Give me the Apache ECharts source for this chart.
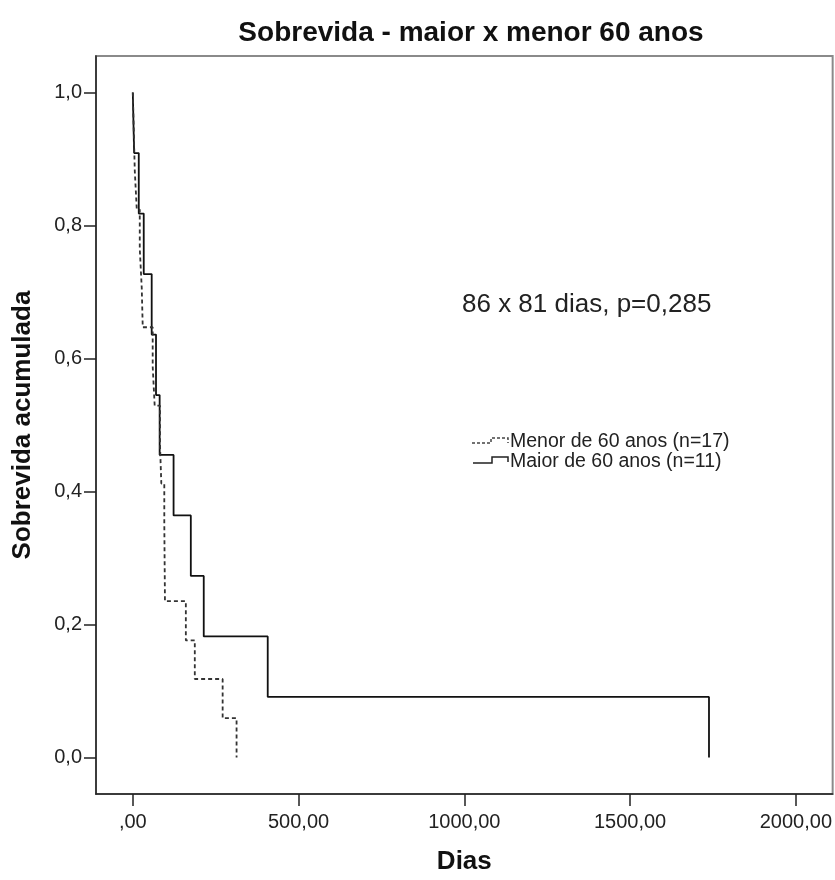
<!DOCTYPE html>
<html>
<head>
<meta charset="utf-8">
<script src="https://cdn.jsdelivr.net/npm/echarts@6/dist/echarts.min.js"></script>
<style>
  html, body { margin: 0; padding: 0; background: #fff; }
  #chart { width: 835px; height: 880px; }
</style>
</head>
<body>
<div id="chart"></div>
<script>
// Kaplan-Meier step points (days, cumulative survival)
const menorDays = [0, 3, 6, 12, 21, 27, 30, 60, 66, 82, 86, 95, 96, 97, 160, 187, 271, 313];
const menorSurv = [1, 0.941, 0.882, 0.824, 0.765, 0.706, 0.647, 0.588, 0.529, 0.471, 0.412, 0.353, 0.294, 0.235, 0.176, 0.118, 0.059, 0];
const maiorDays = [0, 4, 18, 33, 57, 70, 81, 123, 175, 214, 407, 1738];
const maiorSurv = [1, 0.909, 0.818, 0.727, 0.636, 0.545, 0.455, 0.364, 0.273, 0.182, 0.091, 0];

const xTicks = [0, 500, 1000, 1500, 2000];
const yTicks = [0, 0.2, 0.4, 0.6, 0.8, 1.0];

const seriesNames = ['Menor de 60 anos (n=17)', 'Maior de 60 anos (n=11)'];
const annotation = '86 x 81 dias, p=0,285';

const FONT = '"Liberation Sans", Arial, sans-serif';

const pairs = (xs, ys) => xs.map((x, i) => [x, ys[i]]);

const chart = echarts.init(document.getElementById('chart'));

chart.setOption({
    animation: false,
    backgroundColor: '#fff',
    title: {
        text: 'Sobrevida - maior x menor 60 anos',
        left: 466,
        textAlign: 'center',
        top: 14,
        textStyle: { fontFamily: FONT, fontSize: 28, fontWeight: 'bold', color: '#111' }
    },
    grid: {
        left: 96, right: 1, top: 56, bottom: 80,
        show: true,
        borderColor: '#8a8a8a',
        borderWidth: 2
    },
    xAxis: {
        type: 'value',
        min: -111,
        max: 2111,
        name: 'Dias',
        nameLocation: 'middle',
        nameGap: 55,
        nameTextStyle: { fontFamily: FONT, fontSize: 26, fontWeight: 'bold', color: '#111' },
        axisLine: { show: true, onZero: false, lineStyle: { color: '#222', width: 1.5 } },
        axisTick: { show: true, length: 12, customValues: xTicks, lineStyle: { color: '#222', width: 1.5 } },
        axisLabel: {
            customValues: xTicks,
            margin: 18,
            fontFamily: FONT, fontSize: 20, color: '#222',
            formatter: v => v === 0 ? ',00' : v.toFixed(2).replace('.', ',')
        },
        splitLine: { show: false }
    },
    yAxis: {
        type: 'value',
        min: -0.055,
        max: 1.055,
        name: 'Sobrevida acumulada',
        nameLocation: 'middle',
        nameGap: 60,
        nameTextStyle: { fontFamily: FONT, fontSize: 26, fontWeight: 'bold', color: '#111' },
        axisLine: { show: true, onZero: false, lineStyle: { color: '#222', width: 1.5 } },
        axisTick: { show: true, length: 12, customValues: yTicks, lineStyle: { color: '#222', width: 1.5 } },
        axisLabel: {
            customValues: yTicks,
            margin: 14,
            fontFamily: FONT, fontSize: 20, color: '#222',
            formatter: v => v.toFixed(1).replace('.', ',')
        },
        splitLine: { show: false }
    },
    series: [
        {
            name: seriesNames[0],
            type: 'line',
            step: 'end',
            symbol: 'none',
            lineStyle: { color: '#333', width: 1.8, type: [4, 3] },
            data: pairs(menorDays, menorSurv),
            z: 3
        },
        {
            name: seriesNames[1],
            type: 'line',
            step: 'end',
            symbol: 'none',
            lineStyle: { color: '#111', width: 1.8 },
            data: pairs(maiorDays, maiorSurv),
            z: 2
        }
    ],
    graphic: [
        {
            type: 'text', x: 462, y: 305,
            style: { text: annotation, fontFamily: FONT, fontSize: 26, fill: '#222', verticalAlign: 'middle' }
        },
        // legend glyphs
        {
            type: 'polyline',
            shape: { points: [[472, 443], [491, 443], [491, 438], [508, 438], [508, 443]] },
            style: { stroke: '#444', lineWidth: 1.5, lineDash: [3, 2], fill: null }
        },
        {
            type: 'text', x: 510, y: 442,
            style: { text: seriesNames[0], fontFamily: FONT, fontSize: 19.5, fill: '#222', verticalAlign: 'middle' }
        },
        {
            type: 'polyline',
            shape: { points: [[473, 463], [492, 463], [492, 457], [508, 457], [508, 462]] },
            style: { stroke: '#222', lineWidth: 1.5, fill: null }
        },
        {
            type: 'text', x: 510, y: 462,
            style: { text: seriesNames[1], fontFamily: FONT, fontSize: 19.5, fill: '#222', verticalAlign: 'middle' }
        }
    ]
});
</script>
</body>
</html>
